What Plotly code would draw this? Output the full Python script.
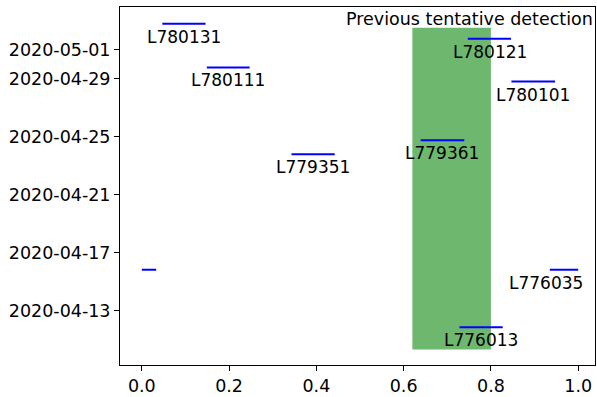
import plotly.graph_objects as go

# Observation data
obs_names = ["L780131", "L780121", "L780111", "L780101", "L779361", "L779351", "L776035", "L776013"]
obs_dates = ["2020-05-02 18:45", "2020-05-01 18:00", "2020-04-29 18:30", "2020-04-28 19:00",
             "2020-04-24 18:00", "2020-04-23 19:00", "2020-04-15 20:00", "2020-04-11 21:00"]
phase_start = [0.047, 0.747, 0.149, 0.847, 0.639, 0.343, 0.935, 0.728]
phase_end = [0.146, 0.846, 0.247, 0.947, 0.739, 0.442, 1.033, 0.827]
label_phase = [0.097, 0.797, 0.198, 0.897, 0.689, 0.393, 0.926, 0.778]

# Previous tentative detection region
det_phase = [0.62, 0.80]
det_dates = ["2020-04-10 08:00", "2020-05-02 12:00"]
det_label = "Previous tentative detection"

ytick_vals = ["2020-04-13", "2020-04-17", "2020-04-21", "2020-04-25", "2020-04-29", "2020-05-01"]
xtick_vals = [0.0, 0.2, 0.4, 0.6, 0.8, 1.0]

FONT = "DejaVu Sans"
fig = go.Figure()

fig.add_shape(type="rect", x0=det_phase[0], x1=det_phase[1], y0=det_dates[0], y1=det_dates[1],
              xref="x", yref="y", fillcolor="rgba(0,128,0,0.57)", line=dict(width=0), layer="below")

xs, ys = [], []
for s, e, d in zip(phase_start, phase_end, obs_dates):
    if e > 1.0:
        xs += [s, 1.0, None, 0.0, e - 1.0, None]
        ys += [d, d, None, d, d, None]
    else:
        xs += [s, e, None]
        ys += [d, d, None]
fig.add_trace(go.Scatter(x=xs, y=ys, mode="lines", line=dict(color="blue", width=2),
                         showlegend=False, hoverinfo="skip"))

for n, lx, d in zip(obs_names, label_phase, obs_dates):
    fig.add_annotation(x=lx, y=d, text=n, showarrow=False, xanchor="center", yanchor="top",
                       font=dict(family=FONT, size=17, color="black"), yshift=-1)

fig.add_annotation(x=0.751, y=1, xref="x", yref="paper", text=det_label, showarrow=False,
                   xanchor="center", yanchor="top", font=dict(family=FONT, size=17.5, color="black"))

axis_common = dict(showline=True, linecolor="black", linewidth=1, mirror=True, ticks="outside",
                   ticklen=5, tickcolor="black", showgrid=False, zeroline=False,
                   tickfont=dict(family=FONT, size=17.5, color="black"))

fig.update_layout(
    width=597, height=397,
    margin=dict(l=120, r=1, t=7, b=30),
    plot_bgcolor="white", paper_bgcolor="white",
    xaxis=dict(range=[-0.05, 1.0385], tickvals=xtick_vals,
               ticktext=[f"{v:.1f}" for v in xtick_vals], **axis_common),
    yaxis=dict(type="date", range=["2020-04-09 06:30", "2020-05-03 22:20"], tickvals=ytick_vals,
               ticktext=ytick_vals, **axis_common),
)

fig.write_html("out.html", config={"displayModeBar": False},
               post_script="document.body.style.margin='0';document.body.style.overflow='hidden';")
